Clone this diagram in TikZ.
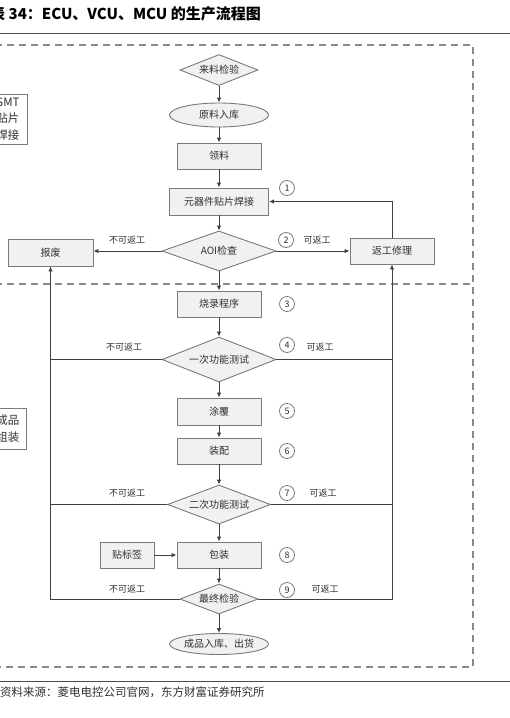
\documentclass[tikz,border=0pt]{standalone}
\usepackage{fontspec}
\setmainfont{Noto Sans CJK SC}
\usetikzlibrary{shapes.geometric,arrows.meta}
\definecolor{boxline}{HTML}{7A7A7A}
\definecolor{boxfill}{HTML}{F1F1F1}
\definecolor{lnc}{HTML}{404040}
\definecolor{txt}{HTML}{303030}
\definecolor{dashc}{HTML}{8A8A8A}
\tikzset{
  base/.style={draw=boxline, line width=0.9pt, fill=boxfill, text=txt, font=\fontsize{10}{10}\selectfont, inner sep=0pt},
  rbox/.style={base, rectangle, minimum width=84pt, minimum height=26pt},
  wbox/.style={base, rectangle, minimum width=99pt, minimum height=27pt},
  dia/.style={base, diamond, aspect=2.8},
  ell/.style={base, ellipse, minimum width=99pt, minimum height=24pt},
  arr/.style={draw=lnc, line width=0.9pt, -{Latex[length=5pt,width=4.5pt]}},
  ln/.style={draw=lnc, line width=0.9pt},
  lab/.style={text=txt, font=\fontsize{9}{9}\selectfont, inner sep=0pt},
  num/.style={circle, draw=boxline, line width=0.8pt, minimum size=15pt, inner sep=0pt, text=txt, font=\fontsize{9}{9}\selectfont},
  dashln/.style={draw=dashc, line width=1.1pt, dash pattern=on 7pt off 5pt},
  side/.style={draw=boxline, line width=0.9pt, fill=white},
  sidetxt/.style={text=txt, font=\fontsize{11.5}{16.5}\selectfont, align=center, inner sep=0pt}
}
\begin{document}
\begin{tikzpicture}[x=1pt,y=-1pt]
\useasboundingbox (0,0) rectangle (510,718);
% title and rules
\node[anchor=west, inner sep=0pt, font=\fontsize{15}{15}\selectfont\bfseries] (title) at (-10,14) {表 34：ECU、VCU、MCU 的生产流程图};
\draw[draw=black!70, line width=1pt] (0,33) -- (510,33);
\draw[draw=black!70, line width=1pt] (0,681) -- (510,681);
\node[anchor=west, inner sep=0pt, text=txt, font=\fontsize{11.5}{11.5}\selectfont] (src) at (0,692) {资料来源：菱电电控公司官网，东方财富证券研究所};
% dashed frame
\draw[dashln] (-5,45) -- (473,45) -- (473,667) -- (-5,667);
\draw[dashln] (-5,284) -- (473,284);
% side labels
\draw[side] (-20,94) rectangle (27,144);
\node[sidetxt] (smt) at (8,119) {SMT\\贴片\\焊接};
\draw[side] (-20,408) rectangle (26,449);
\node[sidetxt] (cpzz) at (8,428.5) {成品\\组装};
% main nodes
\node[dia, minimum width=78pt, minimum height=31pt] (lljy) at (219,70) {来料检验};
\node[ell] (ylrk) at (219,115) {原料入库};
\node[rbox] (ll) at (219,156) {领料};
\node[wbox] (yqj) at (219,201.5) {元器件贴片焊接};
\node[dia, minimum width=114pt, minimum height=40pt] (aoi) at (219,251) {AOI检查};
\node[rbox, minimum width=85pt, minimum height=27pt] (bf) at (50.5,252.5) {报废};
\node[rbox, minimum width=84pt, minimum height=26pt] (fg) at (392,251) {返工修理};
\node[rbox] (slcx) at (219,304) {烧录程序};
\node[dia, minimum width=114pt, minimum height=45pt] (ycgn) at (219,359.5) {一次功能测试};
\node[rbox, minimum height=27pt] (tf) at (219,411.5) {涂覆};
\node[rbox] (zp) at (219,451) {装配};
\node[dia, minimum width=103pt, minimum height=39pt] (ecgn) at (219,504.5) {二次功能测试};
\node[rbox, minimum width=54pt] (btq) at (127,555) {贴标签};
\node[rbox] (bz) at (219,555) {包装};
\node[dia, minimum width=78pt, minimum height=30pt] (zzjy) at (219,599) {最终检验};
\node[ell, minimum height=21pt] (cprk) at (219,644) {成品入库、出货};
% numbers
\node[num] (n1) at (287,188) {1};
\node[num] (n2) at (286,240) {2};
\node[num] (n3) at (287,304) {3};
\node[num] (n4) at (287,345) {4};
\node[num] (n5) at (287,411) {5};
\node[num] (n6) at (287,451) {6};
\node[num] (n7) at (287,493) {7};
\node[num] (n8) at (287,555) {8};
\node[num] (n9) at (287,590) {9};
% branch labels
\node[lab] (l1a) at (127,240) {不可返工};
\node[lab] (l1b) at (317,240) {可返工};
\node[lab] (l2a) at (124,347) {不可返工};
\node[lab] (l2b) at (320,347) {可返工};
\node[lab] (l3a) at (127,493) {不可返工};
\node[lab] (l3b) at (323,493) {可返工};
\node[lab] (l4a) at (127,589) {不可返工};
\node[lab] (l4b) at (325,589) {可返工};
% connectors
\draw[arr] (lljy) -- (ylrk);
\draw[arr] (ylrk) -- (ll);
\draw[arr] (ll) -- (yqj);
\draw[arr] (yqj) -- (aoi);
\draw[arr] (aoi.west) -- (aoi.west -| bf.east);
\draw[arr] (aoi.east) -- (fg.west);
\draw[arr] (fg.north) |- (yqj.east);
\draw[arr] (aoi) -- (slcx);
\draw[arr] (slcx) -- (ycgn);
\draw[arr] (ycgn) -- (tf);
\draw[arr] (tf) -- (zp);
\draw[arr] (zp) -- (ecgn);
\draw[arr] (ecgn) -- (bz);
\draw[arr] (btq) -- (bz);
\draw[arr] (bz) -- (zzjy);
\draw[arr] (zzjy) -- (cprk);
\draw[ln] (ycgn.west) -- (ycgn.west -| bf.south);
\draw[ln] (ycgn.east) -- (ycgn.east -| fg.south);
\draw[ln] (ecgn.west) -- (ecgn.west -| bf.south);
\draw[ln] (ecgn.east) -- (ecgn.east -| fg.south);
\draw[arr] (zzjy.west) -| (bf.south);
\draw[arr] (zzjy.east) -| (fg.south);
\end{tikzpicture}
\end{document}
